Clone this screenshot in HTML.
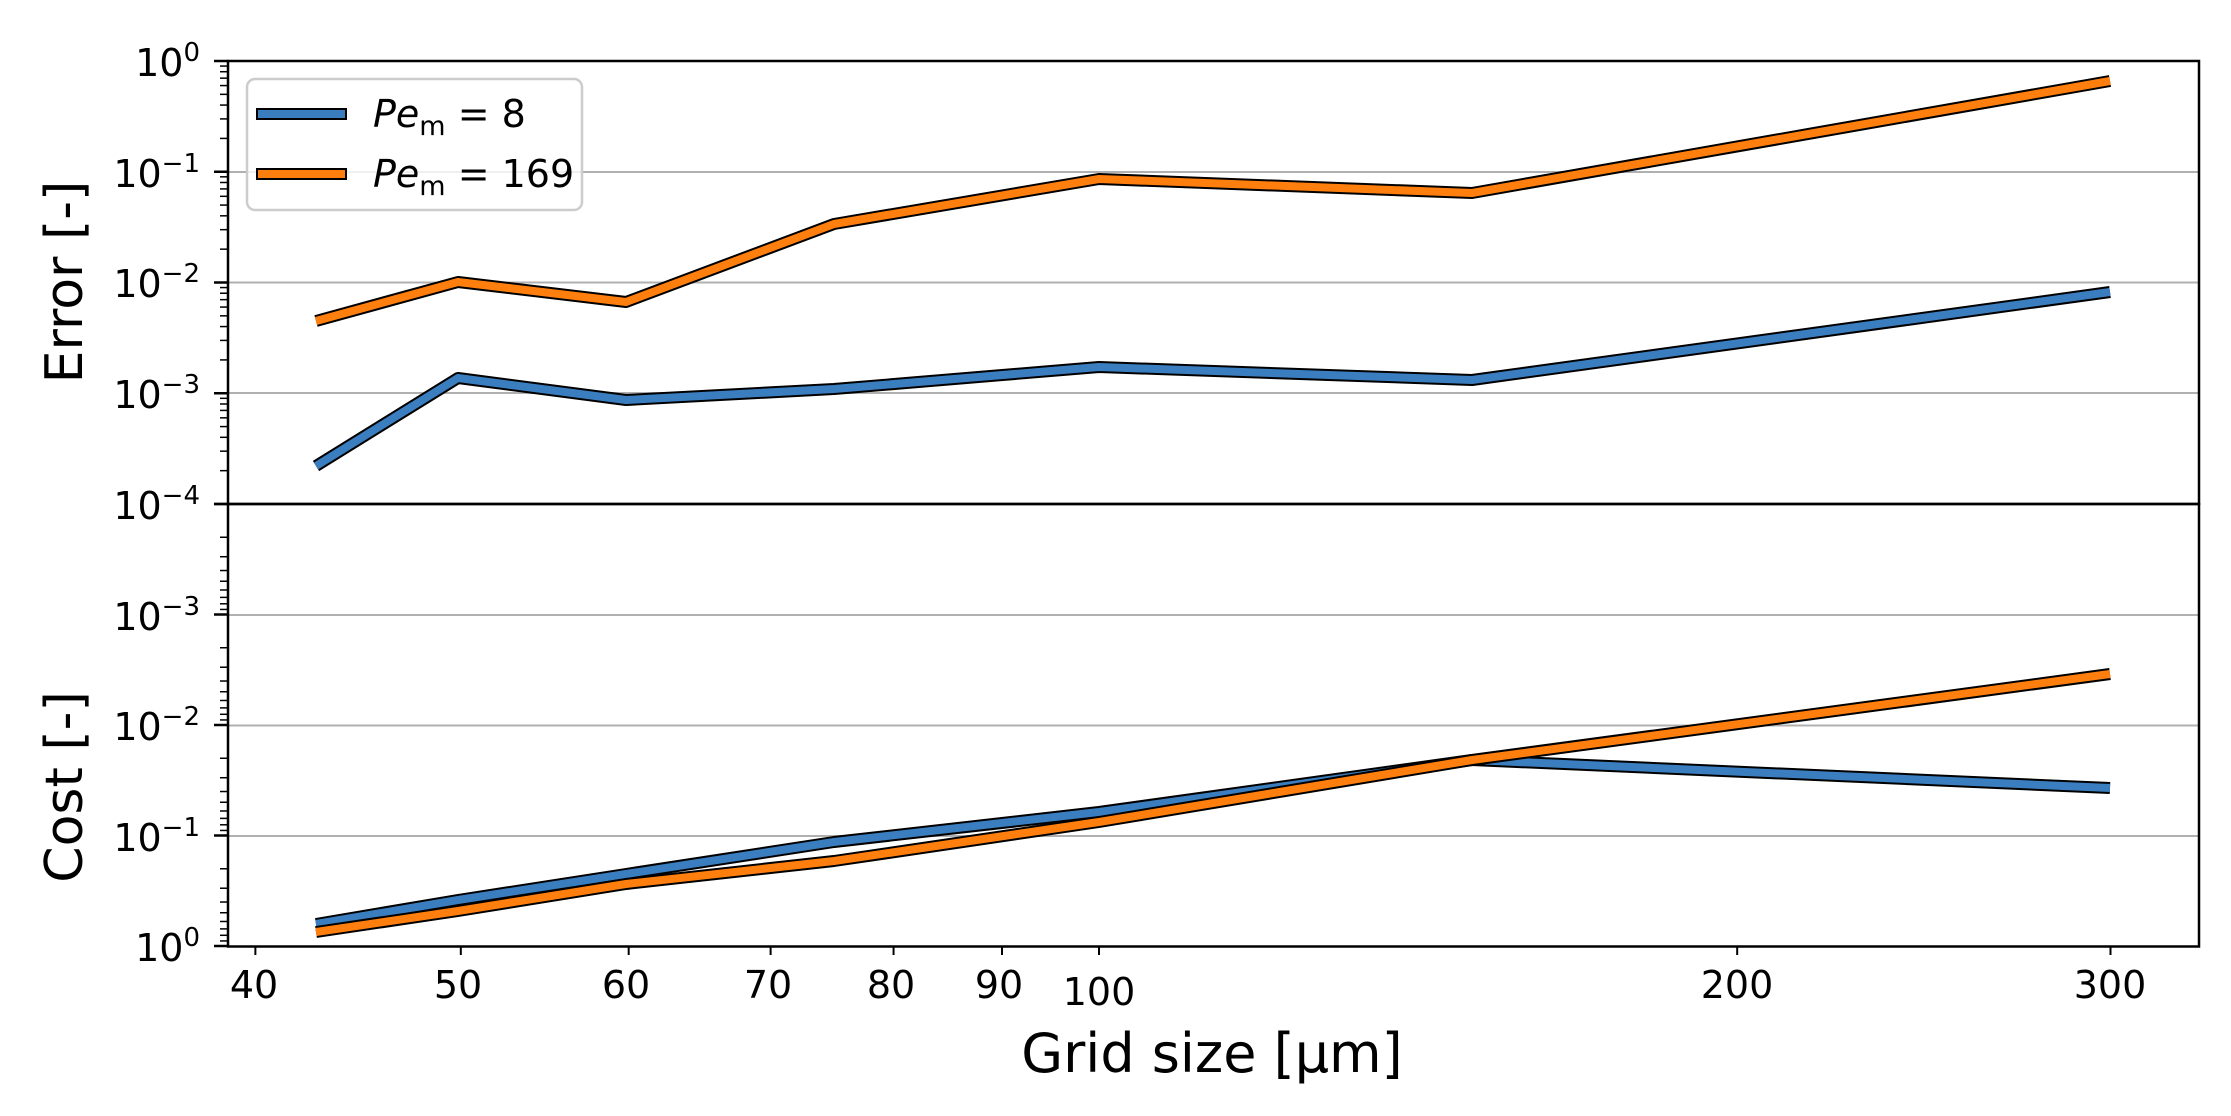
<!DOCTYPE html>
<html><head><meta charset="utf-8"><style>html,body{margin:0;padding:0;background:#fff}svg{display:block}</style></head>
<body>
<svg xmlns="http://www.w3.org/2000/svg" width="2231" height="1116" viewBox="0 0 2231 1116" font-family="DejaVu Sans, Liberation Sans, sans-serif">
<rect width="2231" height="1116" fill="#fff"/>
<g stroke="#b0b0b0" stroke-width="2">
<line x1="228" x2="2199" y1="172" y2="172"/>
<line x1="228" x2="2199" y1="282.5" y2="282.5"/>
<line x1="228" x2="2199" y1="393" y2="393"/>
<line x1="228" x2="2199" y1="615" y2="615"/>
<line x1="228" x2="2199" y1="725.5" y2="725.5"/>
<line x1="228" x2="2199" y1="836" y2="836"/>
</g>
<g id="ticks" stroke="#000" stroke-width="2"></g>
<g fill="none" stroke-linejoin="round">
<polyline points="316,466 458,378 626,400 834,389 1099,367 1472,380 2110,292" stroke="#000" stroke-width="12"/>
<polyline points="316,466 458,378 626,400 834,389 1099,367 1472,380 2110,292" stroke="#3a7ebf" stroke-width="8"/>
<polyline points="316,321 458,282 626,302 834,224 1099,179 1472,193 2110,81" stroke="#000" stroke-width="12"/>
<polyline points="316,321 458,282 626,302 834,224 1099,179 1472,193 2110,81" stroke="#ff7f0e" stroke-width="8"/>
<polyline points="316,924 458,900 626,874 834,842 1099,812 1472,760 2110,788" stroke="#000" stroke-width="12"/>
<polyline points="316,924 458,900 626,874 834,842 1099,812 1472,760 2110,788" stroke="#3a7ebf" stroke-width="8"/>
<polyline points="316,932 458,911 626,884 834,861 1099,822 1472,760 2110,674" stroke="#000" stroke-width="12"/>
<polyline points="316,932 458,911 626,884 834,861 1099,822 1472,760 2110,674" stroke="#ff7f0e" stroke-width="8"/>
</g>
<rect x="228" y="61" width="1971" height="443" fill="none" stroke="#000" stroke-width="2.5"/>
<rect x="228" y="504" width="1971" height="442.5" fill="none" stroke="#000" stroke-width="2.5"/>
<g font-size="38" text-anchor="end" fill="#000">
<text x="200" y="76">10<tspan font-size="26" dy="-15">0</tspan></text>
<text x="200" y="187">10<tspan font-size="26" dy="-15">−1</tspan></text>
<text x="200" y="297">10<tspan font-size="26" dy="-15">−2</tspan></text>
<text x="200" y="408">10<tspan font-size="26" dy="-15">−3</tspan></text>
<text x="200" y="519">10<tspan font-size="26" dy="-15">−4</tspan></text>
<text x="200" y="630">10<tspan font-size="26" dy="-15">−3</tspan></text>
<text x="200" y="740">10<tspan font-size="26" dy="-15">−2</tspan></text>
<text x="200" y="851">10<tspan font-size="26" dy="-15">−1</tspan></text>
<text x="200" y="961">10<tspan font-size="26" dy="-15">0</tspan></text>
</g>
<g font-size="38" text-anchor="middle" fill="#000">
<text x="254" y="998">40</text>
<text x="458" y="998">50</text>
<text x="626" y="998">60</text>
<text x="768" y="998">70</text>
<text x="891" y="998">80</text>
<text x="999" y="998">90</text>
<text x="1099" y="1005">100</text>
<text x="1737" y="998">200</text>
<text x="2110" y="998">300</text>
</g>
<text x="1212" y="1072" font-size="54" text-anchor="middle">Grid size [μm]</text>
<text transform="translate(82,282) rotate(-90)" font-size="52" text-anchor="middle">Error [-]</text>
<text transform="translate(82,787) rotate(-90)" font-size="52" text-anchor="middle">Cost [-]</text>
<rect x="247" y="79" width="335" height="131" rx="8" fill="#fff" fill-opacity="0.8" stroke="#cccccc" stroke-width="2.5"/>
<rect x="257" y="109" width="89" height="10" fill="#3a7ebf" stroke="#000" stroke-width="2"/>
<rect x="257" y="169" width="89" height="10" fill="#ff7f0e" stroke="#000" stroke-width="2"/>
<g font-size="38">
<text x="373" y="127"><tspan font-style="italic">Pe</tspan><tspan font-size="27" dy="8">m</tspan><tspan dy="-8"> = 8</tspan></text>
<text x="373" y="187"><tspan font-style="italic">Pe</tspan><tspan font-size="27" dy="8">m</tspan><tspan dy="-8"> = 169</tspan></text>
</g>
<script>
(function(){
var g=document.getElementById('ticks'),ns='http://www.w3.org/2000/svg';
function L(x1,y1,x2,y2,w){var l=document.createElementNS(ns,'line');l.setAttribute('x1',x1);l.setAttribute('y1',y1);l.setAttribute('x2',x2);l.setAttribute('y2',y2);if(w)l.setAttribute('stroke-width',w);g.appendChild(l);}
var dt=110.75,db=110.5;
for(var n=0;n<=4;n++){L(214,61+n*dt,228,61+n*dt,2.5);L(214,946-n*db,228,946-n*db,2.5);}
for(var n=1;n<=4;n++){for(var k=2;k<=9;k++){var lk=Math.log10(k);var y=61+(n-lk)*dt;L(220,y,228,y,1.5);var y2=946-(n-lk)*db;L(220,y2,228,y2,1.5);}}
[40,50,60,70,80,90,100,200,300].forEach(function(v){var x=1099+2120*Math.log10(v/100);L(x,946,x,955,2);});
})();
</script>
</svg>
</body></html>
